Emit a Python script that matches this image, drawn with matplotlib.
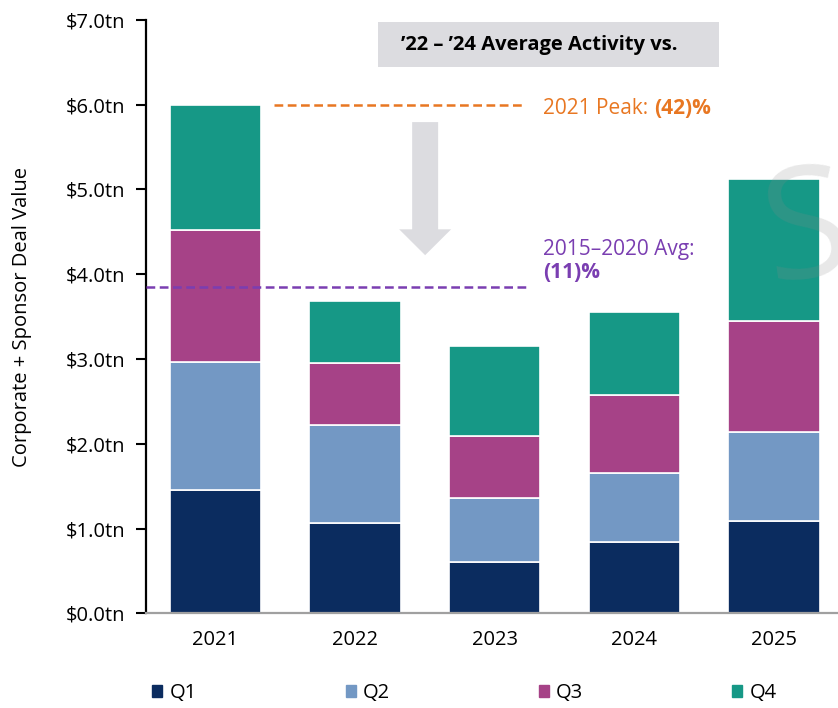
import matplotlib
matplotlib.use("Agg")
import matplotlib.pyplot as plt
from matplotlib.patches import Rectangle, Polygon
from matplotlib.transforms import offset_copy
import numpy as np

plt.rcParams['font.family'] = ['Open Sans', 'DejaVu Sans']

# data (tn USD)
years = ["2021", "2022", "2023", "2024", "2025"]
quarters = ["Q1", "Q2", "Q3", "Q4"]
q1 = [1.45, 1.07, 0.61, 0.84, 1.09]
q2 = [1.51, 1.15, 0.75, 0.82, 1.05]
q3 = [1.56, 0.73, 0.73, 0.91, 1.31]
q4 = [1.48, 0.73, 1.06, 0.98, 1.67]
peak_2021 = 6.0
avg_2015_2020 = 3.85
yticks = [0, 1, 2, 3, 4, 5, 6, 7]

colors = ["#0b2c5f", "#7398c4", "#a64287", "#169886"]
orange = "#e87722"
purple = "#7a3eb1"
arrow_gray = "#dcdce0"

fig = plt.figure(figsize=(8.38, 7.08), dpi=100)
ax = fig.add_axes([0.1739, 0.1338, 0.8261, 0.838])

x = np.arange(len(years))
bottom = np.zeros(len(years))
for vals, c, lab in zip([q1, q2, q3, q4], colors, quarters):
    ax.bar(x, vals, width=0.655, bottom=bottom, color=c, edgecolor="white",
           linewidth=1.2, label=lab, zorder=2)
    bottom += np.array(vals)

ax.set_xlim(-0.5, 4.46)
ax.set_ylim(0, 7)
ax.set_yticks(yticks)
ax.set_yticklabels([f"${v:.1f}tn" for v in yticks], fontsize=14.5)
ax.set_xticks(x)
ax.set_xticklabels(years, fontsize=14.5)
ax.tick_params(axis="x", length=0, pad=12)
ax.tick_params(axis="y", length=7, width=1.5, pad=8)
for s in ["top", "right"]:
    ax.spines[s].set_visible(False)
ax.spines["left"].set_linewidth(1.6)
ax.spines["left"].set_color("black")
ax.spines["bottom"].set_color("#a0a0a0")
ax.spines["bottom"].set_linewidth(1.6)
ax.set_ylabel("Corporate + Sponsor Deal Value", fontsize=14.5, labelpad=24)

# reference lines
ax.plot([0.42, 2.2], [peak_2021, peak_2021], color=orange, lw=1.8,
        dashes=(3.5, 1.8), zorder=3)
ax.plot([-0.5, 2.25], [avg_2015_2020, avg_2015_2020], color=purple, lw=1.8,
        dashes=(3.5, 1.8), zorder=3)

# down arrow
arr = Polygon([(1.409, 5.795), (1.595, 5.795), (1.595, 4.53), (1.688, 4.53),
               (1.502, 4.225), (1.316, 4.53), (1.409, 4.53)],
              closed=True, facecolor=arrow_gray, edgecolor="none", zorder=1)
ax.add_patch(arr)

# title box
box = Rectangle((1.165, 6.44), 2.44, 0.54, facecolor=arrow_gray,
                edgecolor="none", clip_on=False, zorder=1)
ax.add_patch(box)
ax.text(2.32, 6.71, "\u201922 \u2013 \u201924 Average Activity vs.", fontsize=14.5,
        fontweight="bold", ha="center", va="center", color="black")

renderer = fig.canvas.get_renderer()


def two_part(xp, yp, t1, t2, color, size):
    a = ax.text(xp, yp, t1, fontsize=size, color=color, va="center", ha="left")
    w = a.get_window_extent(renderer).width
    tr = offset_copy(ax.transData, fig=fig, x=w * 72 / fig.dpi, y=0, units="points")
    ax.text(xp, yp, t2, fontsize=size, color=color, va="center", ha="left",
            fontweight="bold", transform=tr)


two_part(2.348, 5.96, "2021 Peak: ", "(42)%", orange, 15)
ax.text(2.348, 4.29, "2015\u20132020 Avg:", fontsize=15, color=purple,
        va="center", ha="left")
ax.text(2.348, 4.02, "(11)%", fontsize=15, color=purple, va="center",
        ha="left", fontweight="bold")

# watermark fragment (cut by the right edge, as in the source)
fig.text(0.962, 0.668, "S", fontsize=112, color="#8a8a8a", alpha=0.2,
         rotation=8, ha="center", va="center", zorder=5)

# legend
handles = [Rectangle((0, 0), 1, 1, color=c) for c in colors]
fig.legend(handles, quarters, loc="center left", bbox_to_anchor=(0.16, 0.021),
           ncol=4, frameon=False, fontsize=14.5, handlelength=0.5,
           handleheight=0.5, handletextpad=0.35, columnspacing=7.4)

fig.savefig("out.png", dpi=100)
